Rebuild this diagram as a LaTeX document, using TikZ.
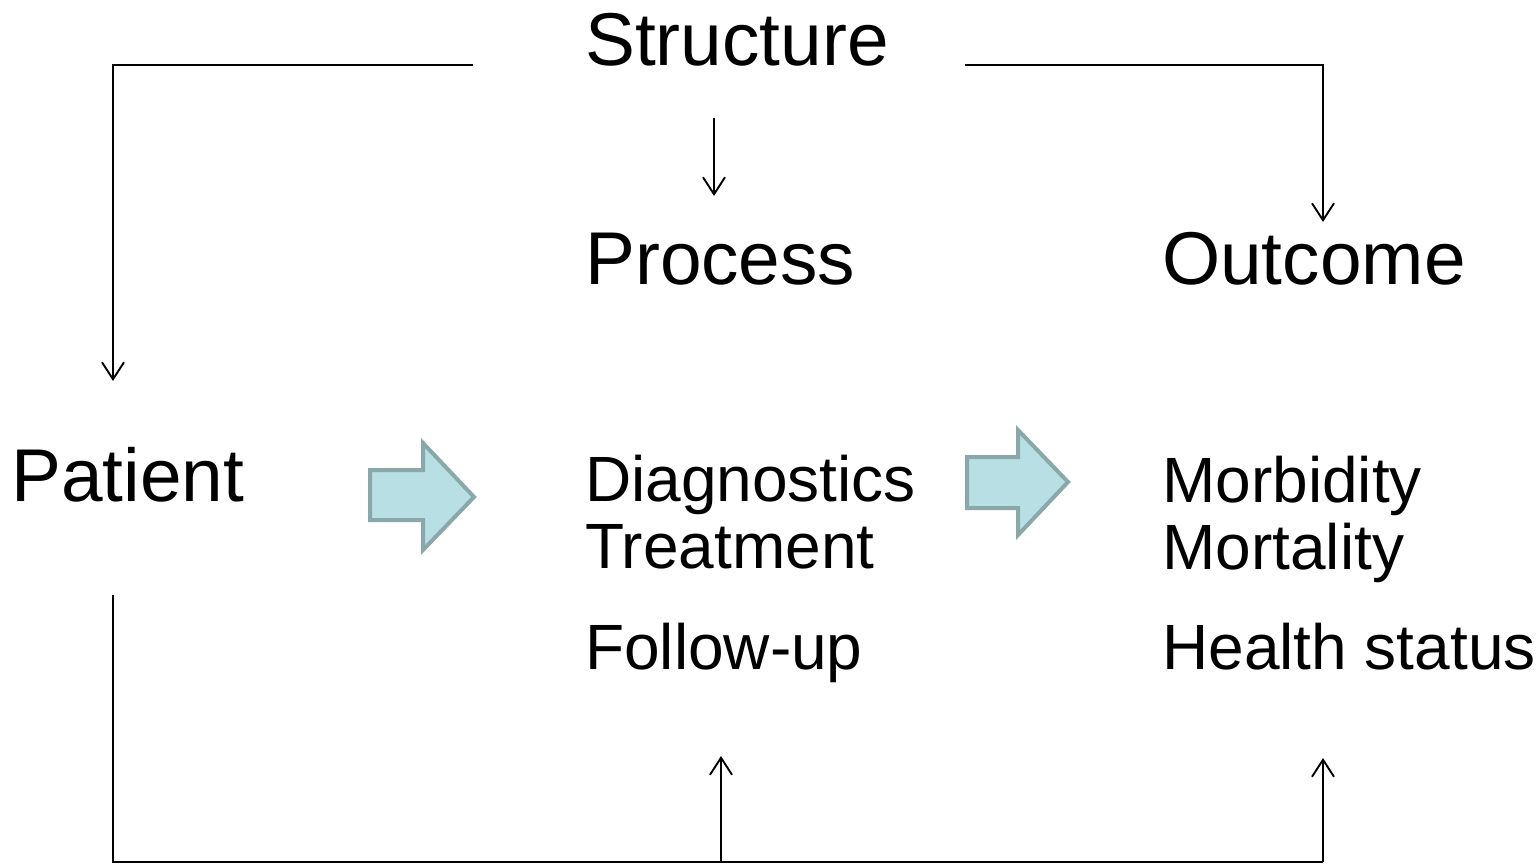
\documentclass[tikz,border=0pt]{standalone}
\usepackage{fontspec}
\setmainfont{Liberation Sans}
\usepackage{xcolor}
\usetikzlibrary{arrows.meta, positioning}
\definecolor{arrowfill}{RGB}{184,223,227}
\definecolor{arrowline}{RGB}{138,168,170}

\begin{document}
\begin{tikzpicture}[x=1pt, y=-1pt,
		bigtxt/.style={anchor=base west, inner sep=0pt, font=\fontsize{74.8}{80}\selectfont},
		smalltxt/.style={anchor=base west, inner sep=0pt, font=\fontsize{64}{67}\selectfont},
		conn/.style={line width=1.9pt, -{Straight Barb[length=17pt, width=22pt, line width=1.9pt]}},
		plain/.style={line width=1.9pt},
		blockarrow/.style={line width=4pt, draw=arrowline, fill=arrowfill, miter limit=4}]
			\useasboundingbox (0,0) rectangle (1540,864);
			\node[bigtxt] (structure) at (585,66) {Structure};
			\node[bigtxt] (process) at (585,284) {Process};
			\node[bigtxt] (outcome) at (1162,284) {Outcome};
			\node[bigtxt] (patient) at (11,501) {Patient};
			\node[smalltxt] (diag) at (585,501) {Diagnostics};
			\node[smalltxt] (treat) at (585,568) {Treatment};
			\node[smalltxt] (follow) at (585,669) {Follow-up};
			\node[smalltxt] (morb) at (1162,502) {Morbidity};
			\node[smalltxt] (mort) at (1162,569) {Mortality};
			\node[smalltxt] (health) at (1162,669) {Health status};
			\coordinate (sleft) at (473,65);
			\coordinate (sright) at (965,65);
			\coordinate (ptop) at (113,381);
			\coordinate (otop) at (1323,222);
			\coordinate (sbot) at (714,118);
			\coordinate (prtop) at (714,196);
			\coordinate (pbot) at (113,595);
			\coordinate (corner) at (113,862);
			\coordinate (fbot) at (721,756);
			\coordinate (hbot) at (1323,758);
			\draw[conn] (sleft) -| (ptop);
			\draw[conn] (sright) -| (otop);
			\draw[conn] (sbot) -- (prtop);
			\draw[plain] (pbot) -- (corner) -- (corner -| hbot);
			\draw[conn] (corner -| fbot) -- (fbot);
			\draw[conn] (corner -| hbot) -- (hbot);
			\draw[blockarrow] (370,470) -- (423,470) -- (423,443) -- (474,497) -- (423,550) -- (423,520) -- (370,520) -- cycle;
			\draw[blockarrow] (967,457) -- (1018,457) -- (1018,430) -- (1068,482) -- (1018,535) -- (1018,508) -- (967,508) -- cycle;
		\end{tikzpicture}
\end{document}
